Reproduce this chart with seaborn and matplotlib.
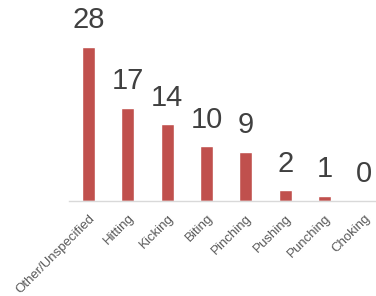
import matplotlib
matplotlib.use("Agg")
import matplotlib.pyplot as plt
import seaborn as sns
import pandas as pd

# Data
categories = ['Other/Unspecified', 'Hitting', 'Kicking', 'Biting',
              'Pinching', 'Pushing', 'Punching', 'Choking']
counts = [28, 17, 14, 10, 9, 2, 1, 0]

df = pd.DataFrame({'category': categories, 'count': counts})

sns.set_style("white")
plt.rcParams['font.family'] = ['Liberation Sans', 'DejaVu Sans']

fig = plt.figure(figsize=(3.76, 2.96), dpi=100)
ax = fig.add_axes([69 / 376, 95 / 296, 314.4 / 376, 165 / 296])

sns.barplot(data=df, x='category', y='count', color='#C0504D',
            saturation=1, width=0.33, ax=ax)

# value labels above bars
for i, v in enumerate(counts):
    ax.annotate(str(v), (i, v), xytext=(0, 9), textcoords='offset points',
                ha='center', va='bottom', fontsize=21, color='#404040')

ax.set_ylim(0, 30)
ax.set_xlim(-0.5, 7.5)
ax.set_xlabel('')
ax.set_ylabel('')
ax.set_yticks([])
for side in ['left', 'right', 'top']:
    ax.spines[side].set_visible(False)
ax.spines['bottom'].set_color('#D9D9D9')
ax.spines['bottom'].set_linewidth(1)
ax.tick_params(axis='x', length=0, pad=8)
plt.setp(ax.get_xticklabels(), rotation=45, ha='right',
         rotation_mode='anchor', fontsize=9.5, color='#595959')

fig.savefig('out.png', dpi=100)
